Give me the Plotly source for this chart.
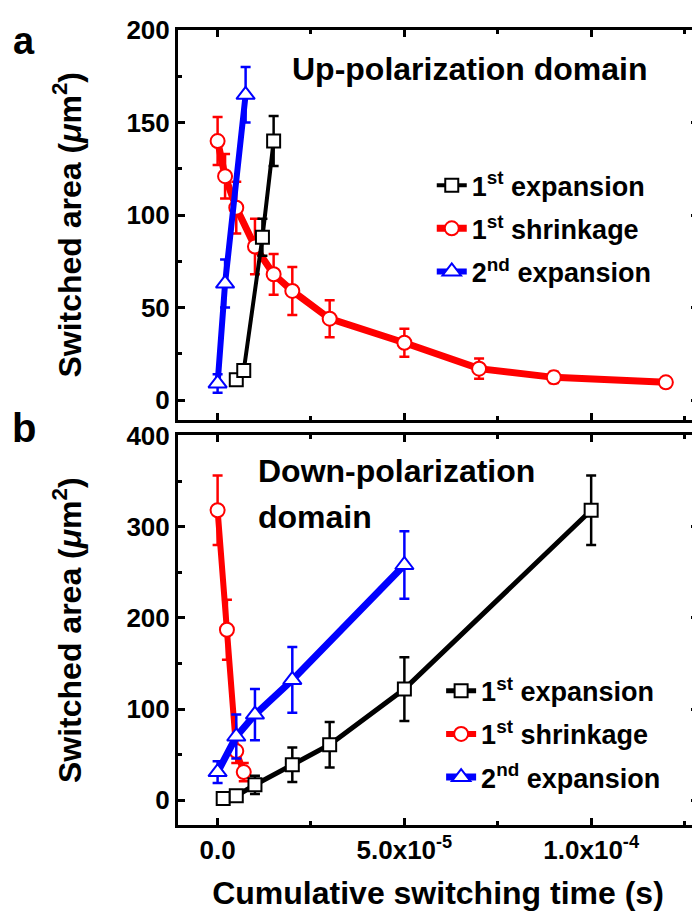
import plotly.graph_objects as go

# ---------------- data ----------------
# Panel a: Up-polarization domain
a_exp1_x = [5e-6, 7e-6, 1.2e-5, 1.5e-5]
a_exp1_y = [11, 16, 88, 140]
a_exp1_e = [3, 3, 10, 13.5]

a_shr_x = [0, 2e-6, 5e-6, 1e-5, 1.5e-5, 2e-5, 3e-5, 5e-5, 7e-5, 9e-5, 1.2e-4]
a_shr_y = [140, 121, 104, 83, 68, 59, 44, 31, 17, 12.3, 9.6]
a_shr_e = [13, 12, 14, 15, 11, 13, 10, 7.5, 5.5, 3, 2.5]

a_exp2_x = [0, 2e-6, 7.5e-6]
a_exp2_y = [9, 63, 165]
a_exp2_e = [5, 13, 15]

# Panel b: Down-polarization domain
b_exp1_x = [1.5e-6, 5e-6, 1e-5, 2e-5, 3e-5, 5e-5, 1e-4]
b_exp1_y = [2, 5, 17, 39, 61, 122, 318]
b_exp1_e = [3, 4, 10, 19, 25, 35, 38]

b_shr_x = [0, 2.5e-6, 5e-6, 7e-6]
b_shr_y = [318, 187, 54, 31]
b_shr_e = [38, 33, 13, 10]

b_exp2_x = [0, 5e-6, 1e-5, 2e-5, 5e-5]
b_exp2_y = [31, 70, 94, 132, 258]
b_exp2_e = [12, 24, 28, 36, 37]

names = ["1<sup>st</sup> expansion", "1<sup>st</sup> shrinkage", "2<sup>nd</sup> expansion"]
x_tickvals = [0, 5e-5, 1e-4]
x_ticktext = ["0.0", "5.0x10<sup>-5</sup>", "1.0x10<sup>-4</sup>"]
ya_tickvals = [0, 50, 100, 150, 200]
yb_tickvals = [0, 100, 200, 300, 400]

FONT = "Liberation Sans, Arial, sans-serif"

fig = go.Figure()


def add(x, y, e, name, color, symbol, msize, lw, xa, ya, legend, rank, group):
    fig.add_trace(go.Scatter(
        x=x, y=y, name=name, mode="lines+markers",
        xaxis=xa, yaxis=ya, legend=legend, legendrank=rank, legendgroup=group,
        line=dict(color=color, width=lw),
        marker=dict(symbol=symbol, size=msize, color="white",
                    line=dict(color=color, width=2)),
        error_y=dict(type="data", array=e, visible=True, color=color,
                     thickness=2.5, width=5),
    ))


# panel a (top): red, black, blue drawing order
add(a_shr_x, a_shr_y, a_shr_e, names[1], "#ff0000", "circle", 14, 7, "x", "y", "legend", 2, "a2")
add(a_exp1_x, a_exp1_y, a_exp1_e, names[0], "#000000", "square", 13, 4, "x", "y", "legend", 1, "a1")
add(a_exp2_x, a_exp2_y, a_exp2_e, names[2], "#0000ff", "triangle-up", 16, 6, "x", "y", "legend", 3, "a3")
# panel b (bottom)
add(b_shr_x, b_shr_y, b_shr_e, names[1], "#ff0000", "circle", 14, 6, "x2", "y2", "legend2", 2, "b2")
add(b_exp1_x, b_exp1_y, b_exp1_e, names[0], "#000000", "square", 13, 5, "x2", "y2", "legend2", 1, "b1")
add(b_exp2_x, b_exp2_y, b_exp2_e, names[2], "#0000ff", "triangle-up", 16, 7, "x2", "y2", "legend2", 3, "b3")

axis_common = dict(
    showline=True, linecolor="black", linewidth=3, mirror="ticks",
    ticks="inside", ticklen=7, tickwidth=3, tickcolor="black",
    showgrid=False, zeroline=False,
    tickfont=dict(family=FONT, size=26, color="black", weight="bold"),
)
xr = [-1.06e-5, 1.286e-4]
ytitle = dict(text="Switched area (<i>μ</i>m<sup>2</sup>)", standoff=36,
              font=dict(family=FONT, size=32, color="black", weight="bold"))

fig.update_layout(
    width=700, height=915,
    margin=dict(l=170, r=7, t=13, b=98),
    paper_bgcolor="white", plot_bgcolor="white",
    font=dict(family=FONT, color="black"),
    xaxis=dict(domain=[0, 1], anchor="y", range=xr, tickvals=x_tickvals,
               showticklabels=False,
               minor=dict(dtick=2.5e-5, tick0=0, ticks="inside", ticklen=4,
                          tickwidth=3, tickcolor="black"),
               **axis_common),
    yaxis=dict(domain=[0.51, 1.0], anchor="x", range=[-10.5, 200],
               tickvals=ya_tickvals,
               minor=dict(dtick=25, tick0=0, ticks="inside", ticklen=4,
                          tickwidth=3, tickcolor="black"),
               title=ytitle,
               **axis_common),
    xaxis2=dict(domain=[0, 1], anchor="y2", range=xr, tickvals=x_tickvals,
                ticktext=x_ticktext,
                minor=dict(dtick=2.5e-5, tick0=0, ticks="inside", ticklen=4,
                           tickwidth=3, tickcolor="black"),
                title=dict(text="Cumulative switching time (s)", standoff=18,
                           font=dict(family=FONT, size=32, color="black", weight="bold")),
                **axis_common),
    yaxis2=dict(domain=[0, 0.49], anchor="x2", range=[-27, 400],
                tickvals=yb_tickvals,
                minor=dict(dtick=50, tick0=0, ticks="inside", ticklen=4,
                           tickwidth=3, tickcolor="black"),
                title=ytitle,
                **axis_common),
    legend=dict(x=0.488, y=0.835, xanchor="left", yanchor="top",
                bgcolor="rgba(0,0,0,0)", traceorder="grouped", tracegroupgap=5,
                font=dict(family=FONT, size=27, color="black", weight="bold"),
                itemwidth=30),
    legend2=dict(x=0.506, y=0.199, xanchor="left", yanchor="top",
                 bgcolor="rgba(0,0,0,0)", traceorder="grouped", tracegroupgap=5,
                 font=dict(family=FONT, size=27, color="black", weight="bold"),
                 itemwidth=30),
    showlegend=True,
)

annots = [
    dict(text="Up-polarization domain", x=0.215, y=0.951, xanchor="left", yanchor="middle",
         font=dict(size=32)),
    dict(text="Down-polarization", x=0.15, y=0.445, xanchor="left", yanchor="middle",
         font=dict(size=32)),
    dict(text="domain", x=0.15, y=0.388, xanchor="left", yanchor="middle",
         font=dict(size=32)),
    dict(text="a", x=-0.296, y=1.0155, xanchor="center", yanchor="top", font=dict(size=38)),
    dict(text="b", x=-0.296, y=0.5, xanchor="center", yanchor="middle", font=dict(size=40)),
]
for an in annots:
    f = an.pop("font")
    fig.add_annotation(xref="paper", yref="paper", showarrow=False,
                       font=dict(family=FONT, color="black", weight="bold", **f), **an)

fig.write_html("out.html")
